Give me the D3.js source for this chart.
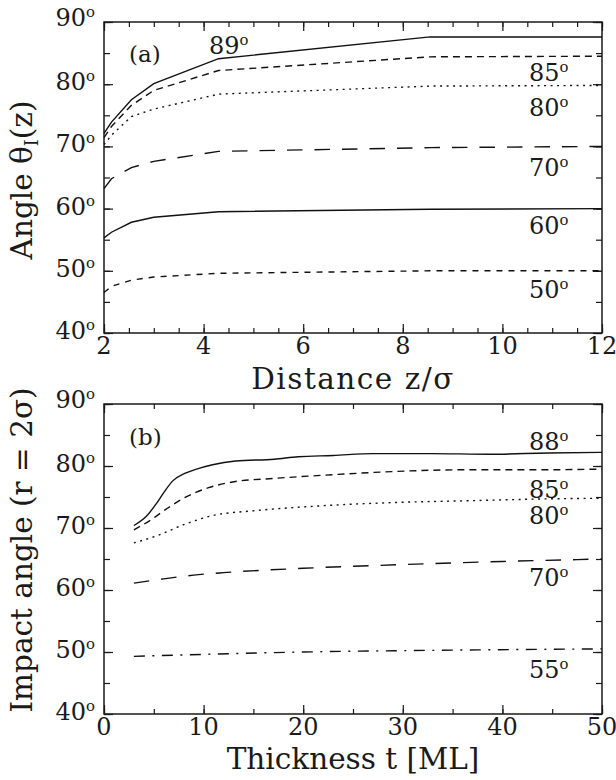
<!DOCTYPE html>
<html>
<head>
<meta charset="utf-8">
<script src="https://cdn.jsdelivr.net/npm/d3@7"></script>
<style>
  body { margin: 0; background: #fff; }
  text { font-family: "DejaVu Serif", serif; fill: #1a1a1a; }
</style>
</head>
<body>
<div id="chart"></div>
<script>
// panel (a): impact angle vs distance z/sigma
var zA = [2, 2.15, 2.55, 3, 4.3, 8.55, 12];
var a89 = [72.1, 73.9, 77.5, 80.1, 84.1, 87.6, 87.6];
var a85 = [71.4, 73.2, 76.6, 79.0, 82.2, 84.4, 84.5];
var a80 = [70.3, 71.8, 74.8, 76.0, 78.4, 79.7, 79.8];
var a70 = [63.2, 64.8, 66.6, 67.6, 69.2, 69.8, 70.0];
var a60 = [55.3, 56.2, 57.8, 58.6, 59.5, 59.9, 60.0];
var a50 = [46.5, 47.5, 48.5, 49.0, 49.6, 50.0, 50.0];

// panel (b): impact angle vs thickness t
var t88 = [3, 4.2, 5.2, 6, 6.9, 8.1, 9.3, 10.9, 13.2, 17.1, 19.5, 23, 27, 32.8, 38.7, 44.6, 50];
var b88 = [70.4, 71.8, 73.8, 75.7, 77.6, 78.8, 79.5, 80.2, 80.8, 81.1, 81.5, 81.7, 82.0, 82.0, 81.9, 82.1, 82.2];
var t85 = [3, 4.6, 6.2, 8.1, 10.5, 13.2, 17.1, 23, 28.9, 36.7, 44.6, 50];
var b85 = [69.7, 71.2, 73.0, 74.9, 76.5, 77.5, 78.0, 78.6, 79.1, 79.4, 79.4, 79.5];
var t80 = [3, 5.4, 8.1, 10.9, 15.2, 21, 28.9, 36.7, 44.6, 50];
var b80 = [67.6, 68.8, 70.6, 72.0, 72.8, 73.5, 74.1, 74.4, 74.7, 74.8];
var t70 = [3, 6, 9, 12, 20, 30, 40, 50];
var b70 = [61.1, 61.8, 62.4, 62.8, 63.5, 64.1, 64.6, 65.0];
var t55 = [3, 20, 35, 50];
var b55 = [49.3, 50.0, 50.3, 50.5];

var angleTicks = [40, 50, 60, 70, 80, 90];
var zTicks = [2, 4, 6, 8, 10, 12];
var tTicks = [0, 10, 20, 30, 40, 50];

var svg = d3.select("#chart").append("svg")
  .attr("width", 616)
  .attr("height", 780);

svg.append("rect").attr("width", 616).attr("height", 780).attr("fill", "#fff");

// write "NN°" with a raised small o
function deg(sel, v) {
  sel.text(v);
  sel.append("tspan").attr("font-size", "0.62em").attr("dy", "-0.6em").text("o");
}

function panel(p) {
  var g = svg.append("g").attr("transform", `translate(${p.left},${p.top})`);
  var w = p.width, h = p.height;

  var x = d3.scaleLinear().domain(p.xDomain).range([0, w]);
  var y = d3.scaleLinear().domain([40, 90]).range([h, 0]);

  var minorX = d3.range(p.xDomain[0], p.xDomain[1] + 1e-9, p.xMinor);
  var minorY = d3.range(40, 90.01, 5);

  // inward ticks on all four sides
  function ticks(axis, tr, vals, size) {
    g.append("g").attr("transform", tr)
      .call(axis.tickValues(vals).tickSize(-size).tickFormat(""))
      .call(s => s.select(".domain").remove())
      .selectAll("line").attr("stroke", "#1a1a1a").attr("stroke-width", 1.2);
  }
  ticks(d3.axisBottom(x), `translate(0,${h})`, minorX, 5);
  ticks(d3.axisBottom(x), `translate(0,${h})`, p.xTicks, 9);
  ticks(d3.axisTop(x), "translate(0,0)", minorX, 5);
  ticks(d3.axisTop(x), "translate(0,0)", p.xTicks, 9);
  ticks(d3.axisLeft(y), "translate(0,0)", minorY, 6);
  ticks(d3.axisLeft(y), "translate(0,0)", angleTicks, 9);
  ticks(d3.axisRight(y), `translate(${w},0)`, minorY, 6);
  ticks(d3.axisRight(y), `translate(${w},0)`, angleTicks, 9);

  g.append("rect").attr("width", w).attr("height", h)
    .attr("fill", "none").attr("stroke", "#1a1a1a").attr("stroke-width", 1.5);

  // tick labels
  g.selectAll(".ylab").data(angleTicks).enter().append("text")
    .attr("class", "ylab")
    .attr("x", -9)
    .attr("y", d => y(d) + (d === 90 ? p.topShift : 6))
    .attr("text-anchor", "end")
    .attr("font-size", 24)
    .each(function(d) { deg(d3.select(this), d); });

  g.selectAll(".xlab").data(p.xTicks).enter().append("text")
    .attr("x", d => x(d))
    .attr("y", h + 21)
    .attr("text-anchor", "middle")
    .attr("font-size", 24)
    .text(d => d);

  // curves
  var line = d3.line().x(d => x(d[0])).y(d => y(d[1])).curve(p.curve);
  p.series.forEach(function(s) {
    g.append("path")
      .datum(d3.zip(s.x, s.y))
      .attr("d", line)
      .attr("fill", "none")
      .attr("stroke", "#111")
      .attr("stroke-width", 1.4)
      .attr("stroke-dasharray", s.dash);
  });

  // curve labels
  p.labels.forEach(function(l) {
    g.append("text")
      .attr("x", l.x - p.left)
      .attr("y", l.y - p.top)
      .attr("font-size", 24)
      .each(function() { deg(d3.select(this), l.v); });
  });

  g.append("text")
    .attr("x", 129 - p.left).attr("y", p.tagY - p.top)
    .attr("font-size", 23)
    .text(p.tag);

  // x title
  g.append("text")
    .attr("x", w / 2).attr("y", p.xTitleY - p.top)
    .attr("text-anchor", "middle")
    .attr("font-size", 29.5)
    .attr("letter-spacing", p.xTitleSpacing)
    .text(p.xTitle);

  return g;
}

panel({
  left: 104, top: 22, width: 498, height: 311,
  xDomain: [2, 12], xMinor: 0.5, xTicks: zTicks,
  curve: d3.curveLinear, topShift: 4,
  series: [
    { x: zA, y: a89, dash: null },
    { x: zA, y: a85, dash: "7,5" },
    { x: zA, y: a80, dash: "2,4.5" },
    { x: zA, y: a70, dash: "15.5,12" },
    { x: zA, y: a60, dash: null },
    { x: zA, y: a50, dash: "6,6" }
  ],
  labels: [
    { v: 89, x: 209, y: 54 },
    { v: 85, x: 529, y: 81 },
    { v: 80, x: 529, y: 116 },
    { v: 70, x: 529, y: 176 },
    { v: 60, x: 529, y: 234 },
    { v: 50, x: 529, y: 298 }
  ],
  tag: "(a)", tagY: 62,
  xTitle: "Distance z/σ", xTitleY: 389, xTitleSpacing: 1.5
});

panel({
  left: 104, top: 404, width: 498, height: 310,
  xDomain: [0, 50], xMinor: 5, xTicks: tTicks,
  curve: d3.curveMonotoneX, topShift: 4,
  series: [
    { x: t88, y: b88, dash: null },
    { x: t85, y: b85, dash: "7,5" },
    { x: t80, y: b80, dash: "2,4.5" },
    { x: t70, y: b70, dash: "15.5,12" },
    { x: t55, y: b55, dash: "11,7.5,2,7.5" }
  ],
  labels: [
    { v: 88, x: 529, y: 450 },
    { v: 85, x: 529, y: 498 },
    { v: 80, x: 529, y: 524 },
    { v: 70, x: 529, y: 586 },
    { v: 55, x: 529, y: 678 }
  ],
  tag: "(b)", tagY: 445,
  xTitle: "Thickness t [ML]", xTitleY: 769, xTitleSpacing: 0
});

// y titles
var ya = svg.append("text")
  .attr("transform", "translate(32,180) rotate(-90)")
  .attr("text-anchor", "middle")
  .attr("font-size", 29.5)
  .text("Angle θ");
ya.append("tspan").attr("font-size", "0.6em").attr("dy", "0.35em").text("I");
ya.append("tspan").attr("dy", "-0.21em").text("(z)");

svg.append("text")
  .attr("transform", "translate(32,550) rotate(-90)")
  .attr("text-anchor", "middle")
  .attr("font-size", 29.5)
  .text("Impact angle (r = 2σ)");
</script>
</body>
</html>
